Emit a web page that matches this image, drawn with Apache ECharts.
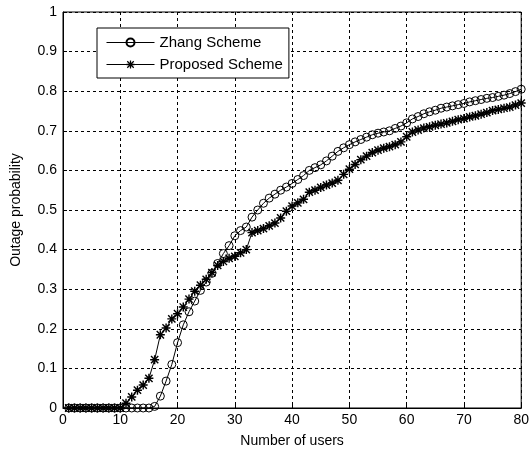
<!DOCTYPE html>
<html>
<head>
<meta charset="utf-8">
<script src="https://cdn.jsdelivr.net/npm/echarts@6/dist/echarts.min.js"></script>
<style>html,body{margin:0;padding:0;background:#fff}#c{width:532px;height:453px}</style>
</head>
<body>
<div id="c"></div>
<script>
var users = [];
for (var i = 1; i <= 80; i++) users.push(i);

var zhang = [
  0,0,0,0,0,0,0,0,0,0,
  0,0,0,0,0,0.004,0.03,0.068,0.11,0.165,
  0.21,0.243,0.27,0.297,0.318,0.34,0.365,0.39,0.41,0.435,
  0.448,0.457,0.482,0.5,0.517,0.53,0.54,0.55,0.558,0.567,
  0.577,0.587,0.6,0.607,0.614,0.624,0.636,0.648,0.657,0.665,
  0.672,0.678,0.684,0.69,0.694,0.697,0.7,0.706,0.712,0.72,
  0.73,0.736,0.743,0.748,0.752,0.757,0.76,0.763,0.766,0.769,
  0.773,0.776,0.779,0.782,0.784,0.787,0.79,0.794,0.799,0.805
];
var proposed = [
  0,0,0,0,0,0,0,0,0,0,
  0.012,0.028,0.045,0.058,0.075,0.122,0.185,0.202,0.225,0.238,
  0.255,0.275,0.295,0.31,0.325,0.342,0.36,0.37,0.378,0.383,
  0.392,0.4,0.443,0.448,0.453,0.46,0.467,0.48,0.497,0.51,
  0.518,0.527,0.545,0.55,0.557,0.563,0.568,0.575,0.59,0.603,
  0.615,0.627,0.636,0.645,0.651,0.656,0.66,0.665,0.672,0.685,
  0.697,0.702,0.707,0.71,0.714,0.717,0.72,0.724,0.728,0.731,
  0.735,0.738,0.742,0.746,0.751,0.754,0.757,0.76,0.765,0.77
];
var seriesNames = ['Zhang Scheme', 'Proposed Scheme'];

var starPath = 'path://M4.2 0L5.8 0L5.8 10L4.2 10Z M0 4.2L10 4.2L10 5.8L0 5.8Z M0.4 1.5L1.5 0.4L9.6 8.5L8.5 9.6Z M8.5 0.4L9.6 1.5L1.5 9.6L0.4 8.5Z';

function pairs(arr) { return users.map(function (u, k) { return [u, arr[k]]; }); }

var font = 'Arial, "Liberation Sans", sans-serif';
var chart = echarts.init(document.getElementById('c'));
chart.setOption({
  animation: false,
  backgroundColor: '#fff',
  grid: { left: 63, right: 6, top: 12, bottom: 45, show: true, borderColor: '#000', borderWidth: 1, backgroundColor: 'transparent' },
  legend: {
    left: 97, top: 28, orient: 'vertical', itemGap: 7, itemWidth: 48, itemHeight: 10,
    padding: [7, 6, 6, 9], backgroundColor: '#fff', borderColor: '#000', borderWidth: 1,
    textStyle: { fontFamily: font, fontSize: 15, color: '#000' },
    lineStyle: { width: 1 },
    data: seriesNames
  },
  xAxis: {
    type: 'value', min: 0, max: 80, interval: 10,
    name: 'Number of users', nameLocation: 'middle', nameGap: 26,
    nameTextStyle: { fontFamily: font, fontSize: 14, color: '#000' },
    axisLine: { show: true, lineStyle: { color: '#000', width: 1 } },
    axisTick: { show: true, inside: true, length: 4, lineStyle: { color: '#000' } },
    axisLabel: { fontFamily: font, fontSize: 14, color: '#000', margin: 5 },
    splitLine: { show: true, lineStyle: { color: '#000', type: [3, 3], width: 1 } }
  },
  yAxis: {
    type: 'value', min: 0, max: 1, interval: 0.1,
    name: 'Outage probability', nameLocation: 'middle', nameGap: 40,
    nameTextStyle: { fontFamily: font, fontSize: 14, color: '#000' },
    axisLine: { show: true, lineStyle: { color: '#000', width: 1 } },
    axisTick: { show: true, inside: true, length: 4, lineStyle: { color: '#000' } },
    axisLabel: { fontFamily: font, fontSize: 14, color: '#000', margin: 6,
      formatter: function (v) { return v === 0 ? '0' : (v === 1 ? '1' : v.toFixed(1)); } },
    splitLine: { show: true, lineStyle: { color: '#000', type: [3, 3], width: 1 } }
  },
  series: [
    {
      name: seriesNames[0], type: 'line', data: pairs(zhang),
      symbol: 'circle', symbolSize: 8, showAllSymbol: true,
      lineStyle: { color: '#000', width: 1 },
      itemStyle: { color: 'rgba(0,0,0,0)', borderColor: '#000', borderWidth: 1 }
    },
    {
      name: seriesNames[1], type: 'line', data: pairs(proposed),
      symbol: starPath, symbolSize: 9, showAllSymbol: true,
      lineStyle: { color: '#000', width: 1 },
      itemStyle: { color: '#000', borderWidth: 0 }
    }
  ]
});
</script>
</body>
</html>
